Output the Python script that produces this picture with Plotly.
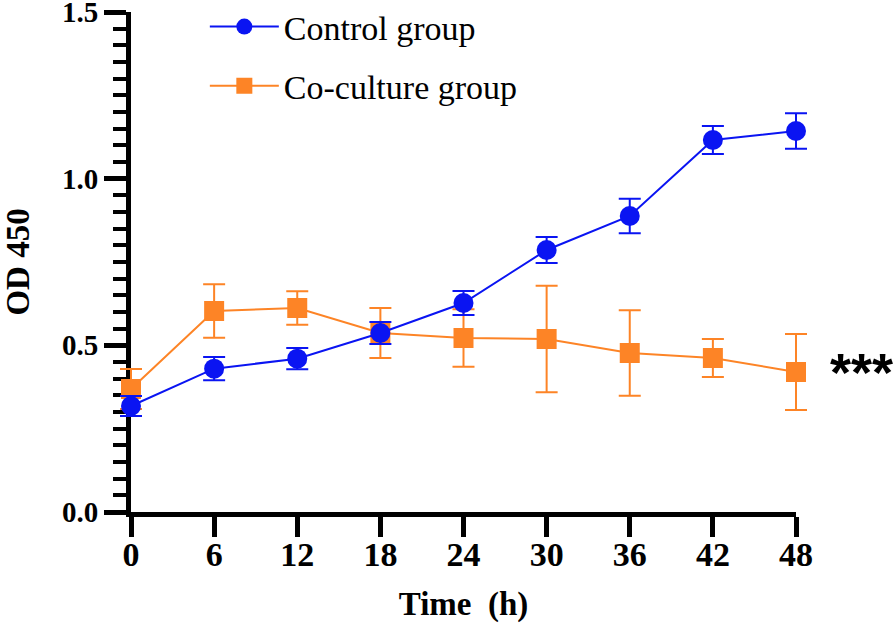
import plotly.graph_objects as go

time_h = [0, 6, 12, 18, 24, 30, 36, 42, 48]
control_mean = [0.318, 0.430, 0.460, 0.537, 0.627, 0.786, 0.888, 1.116, 1.143]
control_err = [0.030, 0.035, 0.032, 0.033, 0.036, 0.039, 0.052, 0.042, 0.053]
coculture_mean = [0.369, 0.603, 0.612, 0.537, 0.522, 0.519, 0.477, 0.462, 0.420]
coculture_err = [0.060, 0.080, 0.050, 0.075, 0.086, 0.160, 0.128, 0.057, 0.114]
x_ticks = [0, 6, 12, 18, 24, 30, 36, 42, 48]
y_ticks = [0.0, 0.5, 1.0, 1.5]
y_tick_labels = ["0.0", "0.5", "1.0", "1.5"]

BLUE = "#0a14f2"
ORANGE = "#fd8426"
FONT = "Liberation Serif"

# layout geometry (pixels)
W, H = 896, 630
ML, MR, MT, MB = 100, 70, 12, 118
AX_LEFT, AX_RIGHT = 131, 796          # pixel span of the visible x axis (0..48)
plot_w = W - ML - MR
dom0 = (AX_LEFT - ML) / plot_w
dom1 = (AX_RIGHT - ML) / plot_w
xmin, xmax = x_ticks[0], x_ticks[-1]
per_px = (xmax - xmin) / (AX_RIGHT - AX_LEFT)
x2_range = [xmin - (AX_LEFT - ML) * per_px, xmax + (W - MR - AX_RIGHT) * per_px]

fig = go.Figure()
# invisible helper so the visible axis frame (x, y) exists
fig.add_trace(go.Scatter(
    x=time_h, y=control_mean, xaxis="x", yaxis="y", mode="markers",
    marker=dict(opacity=0), hoverinfo="skip", showlegend=False,
))
fig.add_trace(go.Scatter(
    x=time_h, y=coculture_mean, name="Co-culture group", mode="lines+markers",
    xaxis="x2", yaxis="y",
    line=dict(color=ORANGE, width=2),
    marker=dict(symbol="square", size=20, color=ORANGE),
    error_y=dict(type="data", array=coculture_err, visible=True, color=ORANGE, thickness=2, width=11),
    cliponaxis=False, legendrank=2, legendgroup="b",
))
fig.add_trace(go.Scatter(
    x=time_h, y=control_mean, name="Control group", mode="lines+markers",
    xaxis="x2", yaxis="y",
    line=dict(color=BLUE, width=2),
    marker=dict(symbol="circle", size=20, color=BLUE),
    error_y=dict(type="data", array=control_err, visible=True, color=BLUE, thickness=2, width=11),
    cliponaxis=False, legendrank=1, legendgroup="a",
))

fig.add_annotation(
    text="<b>***</b>", x=(895 - ML) / plot_w, xref="paper", xanchor="right",
    y=coculture_mean[-1], yref="y", yanchor="middle", yshift=0,
    showarrow=False, font=dict(family="Liberation Sans", size=54, color="black"),
)

fig.update_layout(
    width=W, height=H,
    paper_bgcolor="white", plot_bgcolor="rgba(0,0,0,0)",
    margin=dict(l=ML, r=MR, t=MT, b=MB, autoexpand=False),
    font=dict(family=FONT, color="black"),
    showlegend=True,
    legend=dict(
        x=0.1444, y=1.028, xanchor="left", yanchor="top",
        font=dict(family=FONT, size=34, color="black"),
        bgcolor="rgba(0,0,0,0)", tracegroupgap=12, itemwidth=69,
    ),
    xaxis=dict(
        domain=[dom0, dom1], anchor="y",
        range=[xmin, xmax], tickvals=x_ticks, ticks="outside", ticklen=20, tickwidth=5,
        tickcolor="black", showline=True, linecolor="black", linewidth=5,
        showgrid=False, zeroline=False, automargin=False, ticklabelstandoff=-12,
        tickfont=dict(family=FONT, size=34, color="black", weight="bold"),
        title=dict(text="<b>Time  (h)</b>", font=dict(family=FONT, size=33, color="black"), standoff=22),
    ),
    xaxis2=dict(
        domain=[0, 1], anchor="y", range=x2_range, visible=False,
        showgrid=False, zeroline=False, fixedrange=True,
    ),
    yaxis=dict(
        anchor="x",
        range=[0, 1.5], tickvals=y_ticks, ticktext=y_tick_labels, ticks="outside",
        ticklen=22, tickwidth=5, tickcolor="black",
        showline=True, linecolor="black", linewidth=5,
        showgrid=False, zeroline=False, automargin=False, ticklabeloverflow="allow",
        minor=dict(dtick=0.05, ticks="outside", ticklen=13, tickwidth=4, tickcolor="black", showgrid=False),
        tickfont=dict(family=FONT, size=29, color="black", weight="bold"),
        title=dict(text="<b>OD 450</b>", font=dict(family=FONT, size=33, color="black"), standoff=24),
    ),
)

fig.write_html("out.html", config={"displayModeBar": False},
               post_script="document.body.style.margin='0';")
